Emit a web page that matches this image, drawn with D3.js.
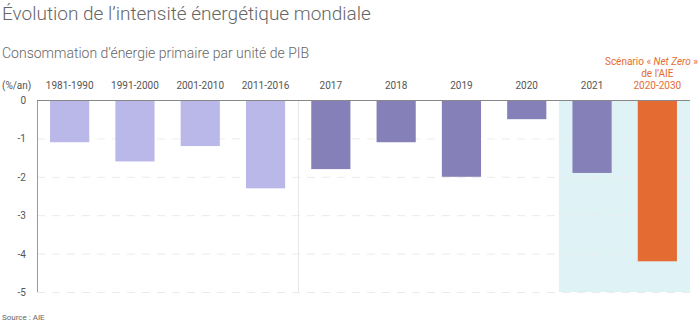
<!DOCTYPE html>
<html>
<head>
<meta charset="utf-8">
<script src="https://cdn.jsdelivr.net/npm/d3@7"></script>
<style>
  body { margin: 0; background: #fff; }
  svg { font-family: Roboto, "Noto Sans", sans-serif; display: block; }
</style>
</head>
<body>
<svg id="chart" width="700" height="323"></svg>
<script>
// data
const categories = ["1981-1990", "1991-2000", "2001-2010", "2011-2016", "2017", "2018", "2019", "2020", "2021", "NZE"];
const values = [-1.1, -1.6, -1.2, -2.3, -1.8, -1.1, -2.0, -0.5, -1.9, -4.2];
const groups = ["period", "period", "period", "period", "year", "year", "year", "year", "year", "scenario"];
const yTicks = [0, -1, -2, -3, -4, -5];
const colors = { period: "#b9b8e8", year: "#8580b7", scenario: "#e46c32" };

const svg = d3.select("#chart");
const margins = { left: 37, right: 10, top: 100, bottom: 31 };
const width = 700;
const height = 323;

const x = d3.scaleBand()
  .domain(categories)
  .range([margins.left, width - margins.right])
  .paddingInner(0.4)
  .paddingOuter(0.2);

const y = d3.scaleLinear()
  .domain([0, -5])
  .range([margins.top, height - margins.bottom]);

// highlight band behind 2021 and the scenario
const bandX0 = x("2021") - x.step() * x.paddingInner() / 2 - 0.5;
svg.append("rect")
  .attr("x", bandX0)
  .attr("y", y(0))
  .attr("width", width - margins.right - bandX0)
  .attr("height", y(-5) - y(0))
  .attr("fill", "#dff2f6");

// dashed gridlines
svg.append("g")
  .selectAll("line")
  .data(yTicks.filter(d => d !== 0))
  .join("line")
  .attr("x1", margins.left)
  .attr("x2", width - margins.right)
  .attr("y1", d => y(d) + 0.5)
  .attr("y2", d => y(d) + 0.5)
  .attr("stroke", "#ebebeb")
  .attr("stroke-dasharray", "8,7");

// separator between periods and years
const sepX = Math.round(x("2017") - x.step() * x.paddingInner() / 2) + 0.5;
svg.append("line")
  .attr("x1", sepX).attr("x2", sepX)
  .attr("y1", y(0)).attr("y2", y(-5))
  .attr("stroke", "#e8e8e8");

// bars
svg.append("g")
  .selectAll("rect")
  .data(values)
  .join("rect")
  .attr("x", (d, i) => x(categories[i]))
  .attr("y", y(0))
  .attr("width", x.bandwidth())
  .attr("height", d => y(d) - y(0))
  .attr("fill", (d, i) => colors[groups[i]]);

// axes lines
svg.append("line")
  .attr("x1", margins.left + 0.5).attr("x2", margins.left + 0.5)
  .attr("y1", y(0)).attr("y2", y(-5))
  .attr("stroke", "#999");
svg.append("line")
  .attr("x1", margins.left).attr("x2", width - margins.right)
  .attr("y1", y(0) + 0.5).attr("y2", y(0) + 0.5)
  .attr("stroke", "#888");

// y tick labels
svg.append("g")
  .selectAll("text")
  .data(yTicks)
  .join("text")
  .attr("x", 26)
  .attr("y", d => y(d) + 4)
  .attr("text-anchor", "end")
  .attr("font-size", 10)
  .attr("fill", "#555")
  .text(d => d === 0 ? "0" : "-" + Math.abs(d));

// category labels
svg.append("g")
  .selectAll("text")
  .data(categories.slice(0, 9))
  .join("text")
  .attr("x", d => x(d) + x.bandwidth() / 2)
  .attr("y", 89)
  .attr("text-anchor", "middle")
  .attr("font-size", 10)
  .attr("fill", "#555")
  .text(d => d);

// scenario label
const nzX = x("NZE") + x.bandwidth() / 2;
const nz = svg.append("text")
  .attr("text-anchor", "middle")
  .attr("font-size", 10)
  .attr("fill", "#e46c32");
const l1 = nz.append("tspan").attr("x", 698).attr("y", 65).attr("text-anchor", "end");
l1.append("tspan").text("Scénario « ");
l1.append("tspan").attr("font-style", "italic").text("Net Zero");
l1.append("tspan").text(" »");
nz.append("tspan").attr("x", nzX).attr("y", 77).text("de l’AIE");
nz.append("tspan").attr("x", nzX).attr("y", 89).text("2020-2030");

svg.append("text")
  .attr("x", 2).attr("y", 89)
  .attr("font-size", 10)
  .attr("fill", "#555")
  .text("(%/an)");

// titles
svg.append("text")
  .attr("x", 2).attr("y", 20)
  .attr("font-size", 19)
  .attr("font-weight", 300)
  .attr("fill", "#666")
  .text("Évolution de l’intensité énergétique mondiale");

svg.append("text")
  .attr("x", 2).attr("y", 58)
  .attr("font-size", 14)
  .attr("font-weight", 300)
  .attr("fill", "#666")
  .text("Consommation d’énergie primaire par unité de PIB");

svg.append("text")
  .attr("x", 2).attr("y", 320)
  .attr("font-size", 8)
  .attr("fill", "#666")
  .text("Source : AIE");
</script>
</body>
</html>
